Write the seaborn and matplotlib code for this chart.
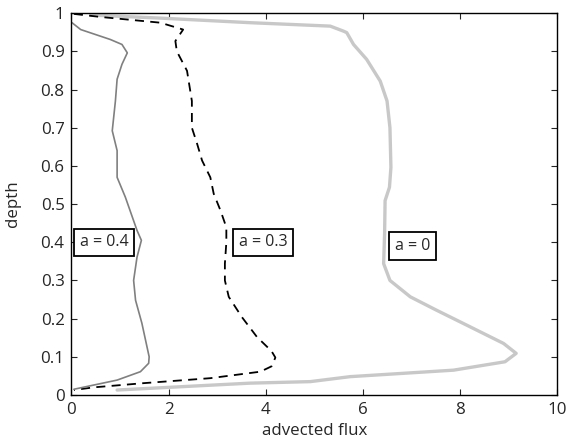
import matplotlib
matplotlib.use('Agg')
import matplotlib.pyplot as plt
import seaborn as sns
import pandas as pd

# depth profiles of advected flux for three values of a
depth_a0 = [0.995, 0.987, 0.975, 0.966, 0.953, 0.949, 0.918, 0.879, 0.822, 0.770, 0.70, 0.596,
            0.544, 0.509, 0.423, 0.344, 0.30, 0.257, 0.222, 0.183, 0.135, 0.109, 0.087,
            0.065, 0.048, 0.035, 0.031, 0.013]
flux_a0 = [0.4, 1.83, 3.68, 5.33, 5.60, 5.67, 5.81, 6.08, 6.36, 6.50, 6.56, 6.58,
           6.55, 6.46, 6.45, 6.43, 6.56, 6.98, 7.52, 8.14, 8.90, 9.16, 8.93,
           7.87, 5.74, 4.92, 3.68, 0.94]

depth_a03 = [0.998, 0.990, 0.975, 0.957, 0.927, 0.90, 0.849, 0.77, 0.70, 0.657, 0.614, 0.57,
             0.527, 0.483, 0.439, 0.40, 0.344, 0.30, 0.257, 0.204, 0.152, 0.115, 0.098,
             0.075, 0.061, 0.044, 0.031, 0.020, 0.013]
flux_a03 = [0.05, 0.6, 1.83, 2.30, 2.14, 2.17, 2.38, 2.48, 2.48, 2.59, 2.69, 2.86,
            2.93, 3.07, 3.19, 3.19, 3.16, 3.16, 3.24, 3.51, 3.82, 4.12, 4.20,
            4.12, 3.89, 2.86, 1.49, 0.46, 0.05]

depth_a04 = [0.975, 0.957, 0.931, 0.918, 0.896, 0.866, 0.827, 0.77, 0.692, 0.64, 0.57,
             0.518, 0.431, 0.405, 0.361, 0.30, 0.248, 0.188, 0.10, 0.083, 0.061, 0.039, 0.015]
flux_a04 = [0.01, 0.19, 0.8, 1.04, 1.15, 1.04, 0.94, 0.905, 0.84, 0.94, 0.94,
            1.11, 1.35, 1.44, 1.35, 1.28, 1.32, 1.45, 1.60, 1.59, 1.42, 0.94, 0.05]

labels = ['a = 0.4', 'a = 0.3', 'a = 0']
label_x = [0.67, 3.95, 7.03]
label_y = [0.40, 0.40, 0.39]

sns.set_style('white')
plt.rcParams['font.family'] = ['Open Sans', 'DejaVu Sans']

fig = plt.figure(figsize=(5.7, 4.44), dpi=100)
ax = fig.add_axes([0.1254, 0.1104, 0.8517, 0.8600])

d0 = pd.DataFrame({'flux': flux_a0, 'depth': depth_a0})
d3 = pd.DataFrame({'flux': flux_a03, 'depth': depth_a03})
d4 = pd.DataFrame({'flux': flux_a04, 'depth': depth_a04})

sns.lineplot(data=d0, x='flux', y='depth', sort=False, estimator=None, ax=ax,
             color='#c8c8c8', linewidth=2.4)
sns.lineplot(data=d3, x='flux', y='depth', sort=False, estimator=None, ax=ax,
             color='black', linewidth=1.3, linestyle=(0, (5, 3.5)))
sns.lineplot(data=d4, x='flux', y='depth', sort=False, estimator=None, ax=ax,
             color='#808080', linewidth=1.2)

for t, x, y in zip(labels, label_x, label_y):
    ax.text(x, y, t, ha='center', va='center', fontsize=11.5,
            bbox=dict(boxstyle='square,pad=0.35', facecolor='white', edgecolor='black', linewidth=1.3))

ax.set_xlim(0, 10)
ax.set_ylim(0, 1)
ax.set_xticks([0, 2, 4, 6, 8, 10])
ax.set_yticks([0, 0.1, 0.2, 0.3, 0.4, 0.5, 0.6, 0.7, 0.8, 0.9, 1])
ax.set_yticklabels(['0', '0.1', '0.2', '0.3', '0.4', '0.5', '0.6', '0.7', '0.8', '0.9', '1'])
ax.set_xlabel('advected flux', fontsize=12.2, labelpad=4)
ax.set_ylabel('depth', fontsize=12.2, labelpad=14)
ax.tick_params(direction='in', length=4.5, width=0.8, labelsize=12.2, top=True, right=True,
               bottom=True, left=True, labeltop=False, labelright=False, pad=5)
for s in ax.spines.values():
    s.set_color('black')
    s.set_linewidth(1.0)

fig.savefig('out.png', dpi=100)
